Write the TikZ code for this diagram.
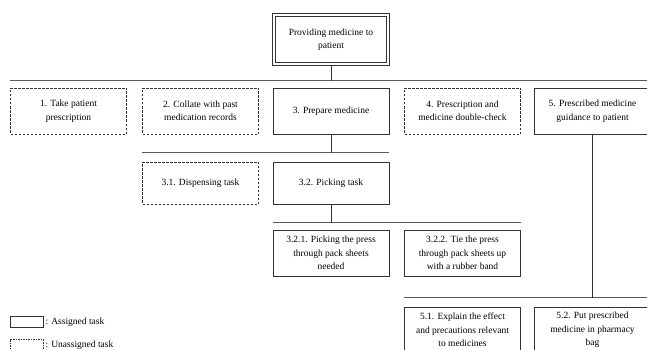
\documentclass[tikz,border=0pt]{standalone}
\usepackage{fontspec}
\setmainfont{Liberation Serif}
\usetikzlibrary{positioning}

\begin{document}
\begin{tikzpicture}[x=1pt, y=-1pt,
    assigned/.style={rectangle, draw=black!80, line width=0.7pt, minimum width=116pt, minimum height=46pt, inner sep=2pt, align=center, font=\fontsize{9.5}{13.5}\selectfont},
    unassigned/.style={assigned, dash pattern=on 2.5pt off 1.5pt},
    goal/.style={assigned, minimum width=111pt, minimum height=46pt},
    bus/.style={draw=black!65, line width=1.1pt},
    link/.style={draw=black!80, line width=0.7pt},
    key/.style={rectangle, draw=black!80, line width=0.6pt, minimum width=33pt, minimum height=11pt, inner sep=0pt},
    keytext/.style={font=\fontsize{9.5}{11}\selectfont, inner sep=0pt}
  ]
    \useasboundingbox (0,0) rectangle (647,350);
    \clip (0,0) rectangle (647,350);

    % Goal (double frame)
    \node[goal] (root) at (331,39.5) {Providing medicine to\\patient};
    \draw[link] ([xshift=-2.5pt,yshift=2.5pt]root.north west) rectangle ([xshift=2.5pt,yshift=-2.5pt]root.south east);

    % Level 1
    \node[unassigned] (t1) at (68.5,111) {1. Take patient\\prescription};
    \node[unassigned] (t2) at (200.5,111) {2. Collate with past\\medication records};
    \node[assigned] (t3) at (331,111) {3. Prepare medicine};
    \node[unassigned] (t4) at (462.5,111) {4. Prescription and\\medicine double-check};
    \node[assigned] (t5) at (592.5,111) {5. Prescribed medicine\\guidance to patient};

    % Level 2
    \node[unassigned, minimum height=42pt] (t31) at (200.5,183) {3.1. Dispensing task};
    \node[assigned, minimum height=42pt] (t32) at (331,183) {3.2. Picking task};

    % Level 3
    \node[assigned] (t321) at (331,253) {3.2.1. Picking the press\\through pack sheets\\needed};
    \node[assigned] (t322) at (462.5,253) {3.2.2. Tie the press\\through pack sheets up\\with a rubber band};
    \node[assigned] (t51) at (462.5,330) {5.1. Explain the effect\\and precautions relevant\\to medicines};
    \node[assigned] (t52) at (592.5,330) {5.2. Put prescribed\\medicine in pharmacy\\bag};

    % Bus lines
    \coordinate (busL) at ([yshift=7pt]t1.north west);
    \coordinate (busR) at ([yshift=7pt]t5.north east);
    \coordinate (bus3L) at ([yshift=9pt]t31.north west);
    \coordinate (bus3R) at ([yshift=9pt]t32.north east);
    \coordinate (bus32L) at ([yshift=7pt]t321.north west);
    \coordinate (bus32R) at ([yshift=7pt]t322.north east);
    \coordinate (bus5L) at ([yshift=9pt]t51.north west);
    \coordinate (bus5R) at ([yshift=9pt]t52.north east);
    \draw[bus] (busL) -- (busR);
    \draw[bus] (bus3L) -- (bus3R);
    \draw[bus] (bus32L) -- (bus32R);
    \draw[bus] (bus5L) -- (bus5R);

    % Links
    \draw[link] ([yshift=-2.5pt]root.south) -- (root.south |- busL);
    \draw[link] (t3.south) -- (t3.south |- bus3L);
    \draw[link] (t32.south) -- (t32.south |- bus32L);
    \draw[link] (t5.south) -- (t5.south |- bus5L);

    % Legend
    \node[key] (keyA) at (26.5,322) {};
    \node[keytext, right=2pt of keyA] {: Assigned task};
    \node[key, dash pattern=on 1.5pt off 1pt] (keyU) at (26.5,345) {};
    \node[keytext, right=2pt of keyU] {: Unassigned task};
  \end{tikzpicture}
\end{document}
